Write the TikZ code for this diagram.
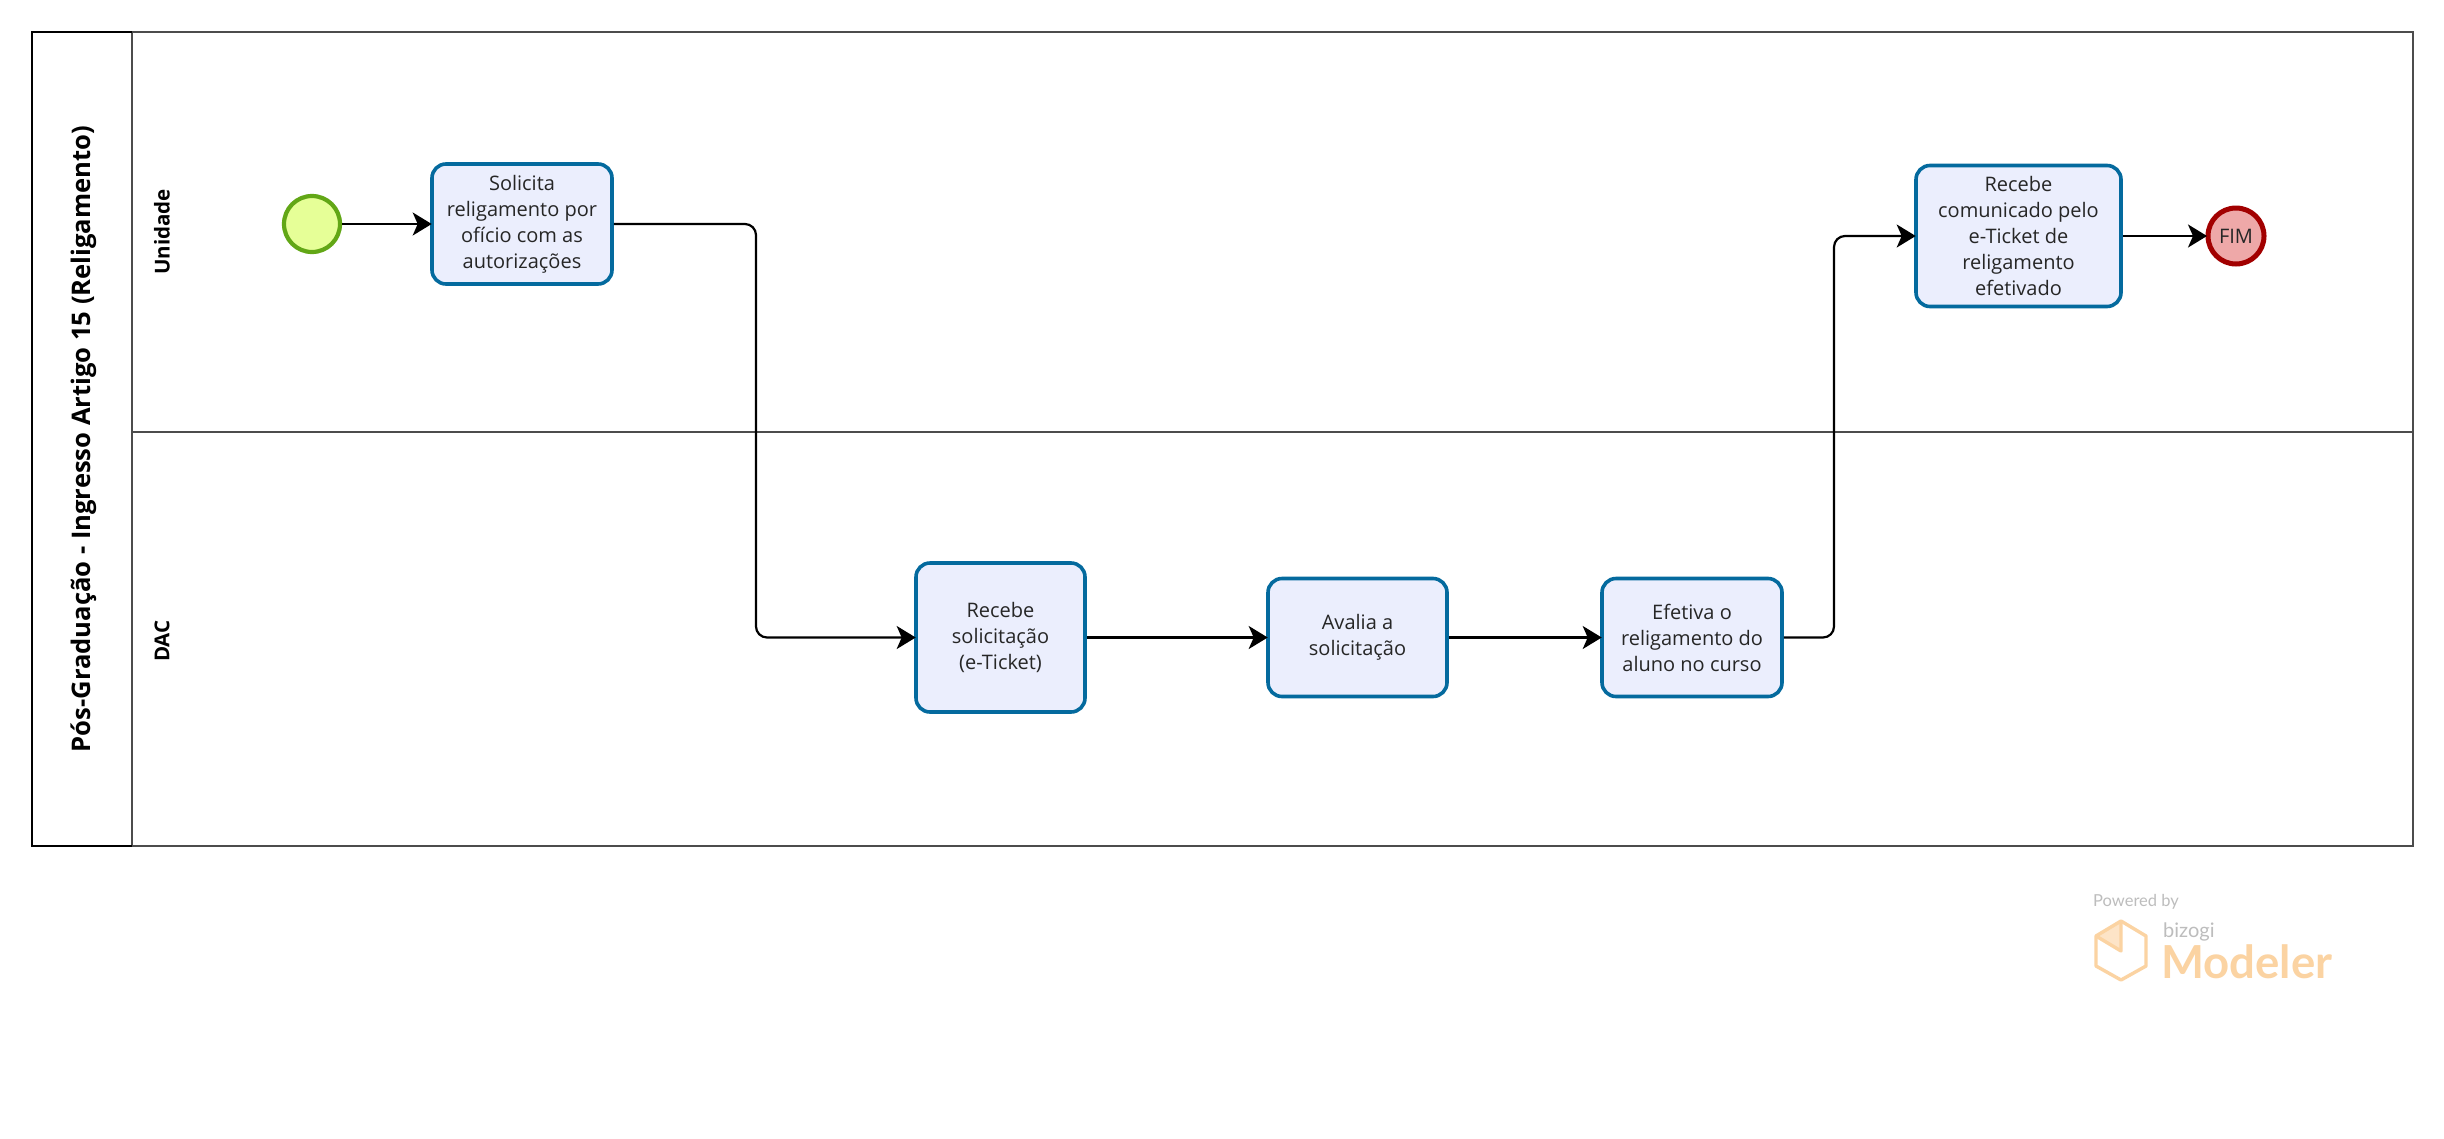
\documentclass[tikz,border=0pt]{standalone}
\usepackage{fontspec}
\setmainfont{Open Sans}
\newfontfamily\logofont{Lato}
\usetikzlibrary{arrows.meta}
\definecolor{taskblue}{HTML}{046A9E}
\definecolor{taskfill}{HTML}{EBEEFD}
\definecolor{startg}{HTML}{62A716}
\definecolor{startf}{HTML}{E6FF97}
\definecolor{endr}{HTML}{A20000}
\definecolor{endf}{HTML}{EEA8A8}
\definecolor{logoo}{HTML}{FBD3A2}
\definecolor{logog}{HTML}{BDBDBD}
\tikzset{
  x=1pt,y=-1pt,
  taskbox/.style={draw=taskblue,fill=taskfill,line width=3.6pt,rounded corners=14pt,align=center,font=\fontsize{20}{26}\selectfont,text=black!85,inner sep=0pt,minimum width=#1},
  evstart/.style={circle,draw=startg,fill=startf,line width=4.2pt,minimum size=56pt,inner sep=0pt},
  evend/.style={circle,draw=endr,fill=endf,line width=5pt,minimum size=56pt,inner sep=0pt,font=\fontsize{20}{24}\selectfont,text=black!85},
  flow/.style={draw=black,line width=2.2pt,rounded corners=11pt,shorten >=-1.5pt,-{Stealth[length=19pt,width=23pt,inset=5pt]}},
  lanetxt/.style={rotate=90,font=\fontsize{20.5}{24}\selectfont\bfseries,text=black},
  lanerule/.style={draw=black!70,line width=1.4pt}
}
\begin{document}
\begin{tikzpicture}
\useasboundingbox (0,0) rectangle (2444,1138);
\fill[white] (0,0) rectangle (2444,1138);
% pool
\draw[lanerule] (132,32) -- (2413,32) -- (2413,846) -- (132,846);
\draw[lanerule] (132,432) -- (2413,432);
\draw[lanerule] (132,32) -- (132,846);
\draw[draw=black,line width=1.6pt] (132,32) -- (32,32) -- (32,846) -- (132,846);
\node[rotate=90,font=\fontsize{25.6}{30}\selectfont\bfseries] (pool) at (83.5,439) {Pós-Graduação - Ingresso Artigo 15 (Religamento)};
\node[lanetxt] (laneA) at (162,232) {Unidade};
\node[lanetxt] (laneB) at (162,641) {DAC};
% nodes
\node[evstart] (start) at (312,224) {};
\node[taskbox=180pt,minimum height=120pt] (t1) at (522,224) {Solicita\\religamento por\\ofício com as\\autorizações};
\node[taskbox=169pt,minimum height=149pt] (t2) at (1000.5,637.5) {Recebe\\solicitação\\(e-Ticket)};
\node[taskbox=179pt,minimum height=118pt] (t3) at (1357.5,637.5) {Avalia a\\solicitação};
\node[taskbox=180pt,minimum height=118pt] (t4) at (1692,637.5) {Efetiva o\\religamento do\\aluno no curso};
\node[taskbox=205pt,minimum height=141pt] (t5) at (2018.5,236) {Recebe\\comunicado pelo\\e-Ticket de\\religamento\\efetivado};
\node[evend] (end) at (2236,236) {FIM};
% connectors
\draw[flow] (start) -- (t1);
\coordinate (c1) at (756,224);
\coordinate (c2) at (756,637.5);
\draw[flow] (t1.east |- start) -- (c1) -- (c2) -- (t2.west);
\draw[flow] (t2.east) -- (t3.west);
\draw[flow] (t3) -- (t4);
\coordinate (c3) at (1834,637.5);
\coordinate (c4) at (1834,236);
\draw[flow] (t4.east) -- (c3) -- (c4) -- (t5.west);
\draw[flow] (t5) -- (end);
% logo
\fill[logoo!60] (2121,922) -- (2121,951) -- (2096,936) -- cycle;
\draw[logoo,line width=3.4pt,line join=round] (2121,921) -- (2146,936) -- (2146,966) -- (2121,980) -- (2096,966) -- (2096,936) -- cycle;
\draw[logoo,line width=3.4pt,line join=round] (2121,921) -- (2121,951) -- (2096,936);
\node[anchor=west,inner sep=0pt,text=logog,font=\logofont\fontsize{16.5}{18}\selectfont] (pw) at (2093,902) {Powered by};
\node[anchor=west,inner sep=0pt,text=logog,font=\logofont\fontsize{20}{22}\selectfont] (bz) at (2163,932) {bizogi};
\node[anchor=west,inner sep=0pt,text=logoo,font=\logofont\bfseries\fontsize{45.5}{48}\selectfont] (md) at (2161,962) {Modeler};
\end{tikzpicture}
\end{document}
